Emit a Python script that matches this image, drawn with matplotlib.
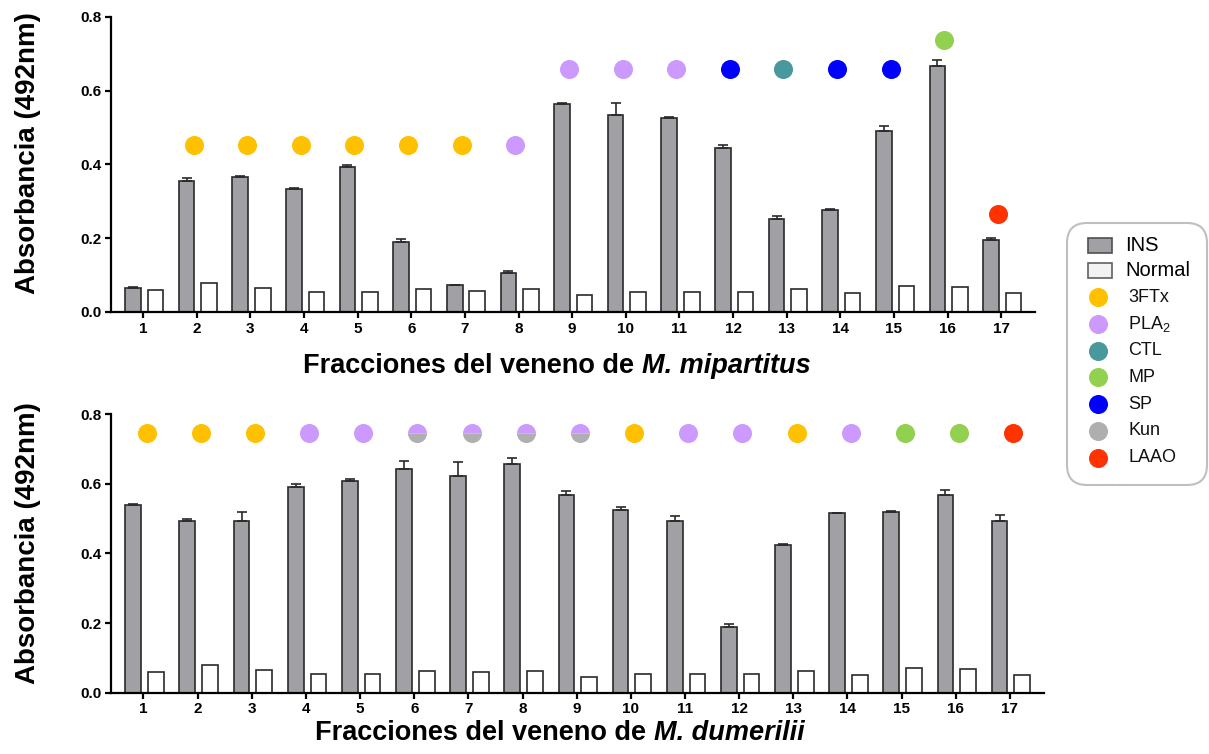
import numpy as np
import matplotlib
matplotlib.use("Agg")
import matplotlib.pyplot as plt
from matplotlib.patches import FancyBboxPatch, Rectangle

plt.rcParams['font.family'] = ['Liberation Sans', 'DejaVu Sans']
plt.rcParams['mathtext.fontset'] = 'custom'
plt.rcParams['mathtext.rm'] = 'Liberation Sans'
plt.rcParams['mathtext.it'] = 'Liberation Sans:italic'
plt.rcParams['mathtext.bf'] = 'Liberation Sans:bold'

# ---------------- data ----------------
fractions = list(range(1, 18))
tick_labels = [str(f) for f in fractions]

normal = [0.059, 0.079, 0.065, 0.054, 0.054, 0.062, 0.058, 0.062, 0.045,
          0.055, 0.053, 0.055, 0.062, 0.051, 0.071, 0.067, 0.051]

ins_mip = [0.065, 0.355, 0.366, 0.333, 0.394, 0.189, 0.073, 0.107, 0.564,
           0.535, 0.527, 0.445, 0.253, 0.276, 0.490, 0.668, 0.195]
err_mip = [0.003, 0.009, 0.003, 0.002, 0.004, 0.008, 0.001, 0.005, 0.002,
           0.032, 0.002, 0.008, 0.006, 0.002, 0.014, 0.015, 0.007]

ins_dum = [0.538, 0.493, 0.493, 0.591, 0.608, 0.641, 0.622, 0.656, 0.568,
           0.524, 0.492, 0.188, 0.425, 0.515, 0.518, 0.568, 0.493]
err_dum = [0.003, 0.005, 0.025, 0.007, 0.004, 0.024, 0.040, 0.018, 0.010,
           0.010, 0.015, 0.009, 0.002, 0.002, 0.003, 0.014, 0.018]

mip_classes = [None, '3FTx', '3FTx', '3FTx', '3FTx', '3FTx', '3FTx', 'PLA2',
               'PLA2', 'PLA2', 'PLA2', 'SP', 'CTL', 'SP', 'SP', 'MP', 'LAAO']
mip_dot_y = [np.nan, 0.452, 0.452, 0.452, 0.452, 0.452, 0.452, 0.452,
             0.658, 0.658, 0.658, 0.658, 0.658, 0.658, 0.658, 0.737, 0.266]

dum_classes = ['3FTx', '3FTx', '3FTx', 'PLA2', 'PLA2', 'PLA2/Kun', 'PLA2/Kun',
               'PLA2/Kun', 'PLA2/Kun', '3FTx', 'PLA2', 'PLA2', '3FTx', 'PLA2',
               'MP', 'MP', 'LAAO']
dum_dot_y = [0.746] * 17

legend_classes = ['3FTx', 'PLA2', 'CTL', 'MP', 'SP', 'Kun', 'LAAO']
legend_texts = ['3FTx', 'PLA$_2$', 'CTL', 'MP', 'SP', 'Kun', 'LAAO']
class_colors = {'3FTx': '#FFC000', 'PLA2': '#CC99FF', 'CTL': '#48989E',
                'MP': '#92D050', 'SP': '#0000FF', 'Kun': '#AFAFAF',
                'LAAO': '#FF3300'}

xlabel_prefix = 'Fracciones del veneno de'
species = ['M. mipartitus', 'M. dumerilii']

INS_COLOR = '#A0A0A5'
EDGE = '#2A2A2A'

W, H = 1209, 754
fig = plt.figure(figsize=(W / 100, H / 100), dpi=100)


def px_axes(x0, y0, x1, y1):
    return fig.add_axes([x0 / W, 1 - y1 / H, (x1 - x0) / W, (y1 - y0) / H])


ax1 = px_axes(111, 17, 1035, 312)
ax2 = px_axes(111, 414, 1044, 692.7)

x = np.array(fractions, dtype=float)
BW = 0.29
OFF_INS = -0.19
OFF_NOR = 0.23
MS = 13.7


def draw_panel(ax, ins, err, classes, doty, dot_off):
    ax.bar(x + OFF_INS, ins, width=BW, color=INS_COLOR, edgecolor=EDGE,
           linewidth=1.2, zorder=2)
    ax.bar(x + OFF_NOR, normal, width=BW, color='white', edgecolor=EDGE,
           linewidth=1.2, zorder=2)
    ax.errorbar(x + OFF_INS, ins, yerr=[np.zeros(len(err)), err], fmt='none',
                ecolor=EDGE, elinewidth=1.2, capsize=3.3, capthick=1.2,
                zorder=3)
    for xi, cls, yv in zip(x, classes, doty):
        if cls is None:
            continue
        if '/' in cls:
            a, b = cls.split('/')
            ax.plot(xi + dot_off, yv, 'o', ms=MS, fillstyle='top',
                    markerfacecolor=class_colors[a],
                    markerfacecoloralt=class_colors[b],
                    markeredgewidth=0, clip_on=False, zorder=4)
        else:
            ax.plot(xi + dot_off, yv, 'o', ms=MS, color=class_colors[cls],
                    markeredgewidth=0, clip_on=False, zorder=4)
    ax.set_xlim(0.4, 17.63)
    ax.set_ylim(0, 0.8)
    ax.set_xticks(x)
    ax.set_xticklabels(tick_labels)
    ax.set_yticks([0.0, 0.2, 0.4, 0.6, 0.8])
    ax.set_yticklabels(['0.0', '0.2', '0.4', '0.6', '0.8'])
    for s in ['top', 'right']:
        ax.spines[s].set_visible(False)
    for s in ['left', 'bottom']:
        ax.spines[s].set_linewidth(1.6)
        ax.spines[s].set_color('black')
    ax.tick_params(axis='both', length=4, width=1.6, color='black',
                   labelsize=11, direction='out')
    ax.tick_params(axis='x', pad=3)
    ax.tick_params(axis='y', pad=3)
    for lab in ax.get_xticklabels() + ax.get_yticklabels():
        lab.set_fontweight('bold')


draw_panel(ax1, ins_mip, err_mip, mip_classes, mip_dot_y, -0.06)
draw_panel(ax2, ins_dum, err_dum, dum_classes, dum_dot_y, 0.06)

# y-axis titles
fig.text(28 / W, 1 - 153.5 / H, 'Absorbancia (492nm)', rotation=90,
         ha='center', va='center', fontsize=20, fontweight='bold')
fig.text(28 / W, 1 - 542.6 / H, 'Absorbancia (492nm)', rotation=90,
         ha='center', va='center', fontsize=20, fontweight='bold')

# x-axis titles: upright prefix + bold-italic species, placed side by side
renderer = fig.canvas.get_renderer()
XL_FS = 19.5


def mixed_label(cx, base_y, sp):
    t1 = fig.text(0, 1 - base_y / H, xlabel_prefix, ha='left',
                  va='baseline', fontsize=XL_FS, fontweight='bold')
    t2 = fig.text(0, 1 - base_y / H, sp, ha='left', va='baseline',
                  fontsize=XL_FS, fontweight='bold', style='italic')
    probe_a = fig.text(0, 0, 'aa', fontsize=XL_FS, fontweight='bold')
    probe_b = fig.text(0, 0, 'a a', fontsize=XL_FS, fontweight='bold')
    sp_w = (probe_b.get_window_extent(renderer).width
            - probe_a.get_window_extent(renderer).width)
    probe_a.remove()
    probe_b.remove()
    w1 = t1.get_window_extent(renderer).width
    w2 = t2.get_window_extent(renderer).width
    total = w1 + sp_w + w2
    left = cx - total / 2
    t1.set_x(left / W)
    t2.set_x((left + w1 + sp_w) / W)


mixed_label(557, 373, species[0])
mixed_label(560, 740, species[1])

# legend (drawn in a pixel-coordinate overlay)
lg = fig.add_axes([0, 0, 1, 1], zorder=5)
lg.set_xlim(0, W)
lg.set_ylim(H, 0)
lg.axis('off')
lg.patch.set_alpha(0)

box = FancyBboxPatch((1067, 223), 140, 262,
                     boxstyle='round,pad=0,rounding_size=20',
                     facecolor='white', edgecolor='#BFBFBF', linewidth=1.5)
lg.add_patch(box)

sw_x, sw_w, sw_h = 1088, 24, 15
rows_sq = [(245.7, INS_COLOR, '#505050', 'INS'),
           (270.7, '#F2F2F2', '#606060', 'Normal')]
for yc, fc, ec, txt in rows_sq:
    lg.add_patch(Rectangle((sw_x, yc - sw_h / 2), sw_w, sw_h, facecolor=fc,
                           edgecolor=ec, linewidth=1.2))
    lg.text(1125, yc, txt, ha='left', va='center', fontsize=14.5,
            color='black')

y0, step = 297.3, 26.7
for i, (cls, txt) in enumerate(zip(legend_classes, legend_texts)):
    yc = y0 + i * step
    lg.plot(1098, yc, 'o', ms=MS, color=class_colors[cls], markeredgewidth=0)
    lg.text(1128, yc, txt, ha='left', va='center', fontsize=13,
            color='#111111')

fig.savefig('out.png', dpi=100)
